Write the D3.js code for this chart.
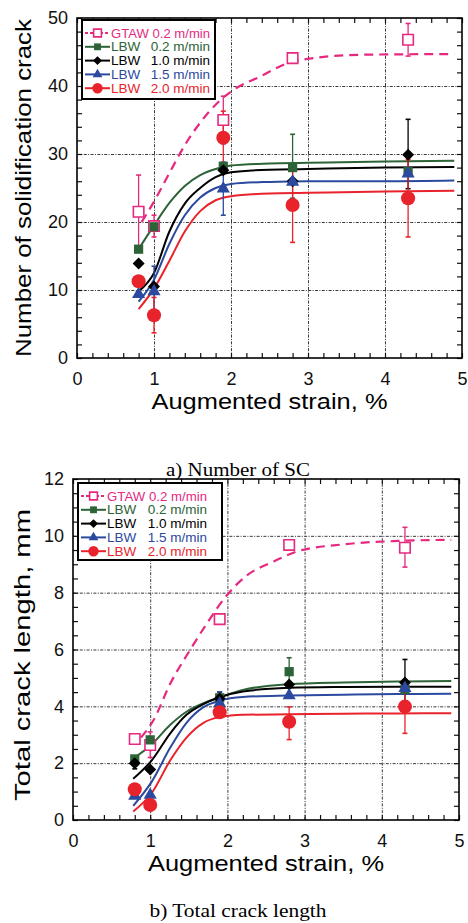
<!DOCTYPE html>
<html>
<head>
<meta charset="utf-8">
<script src="https://cdn.jsdelivr.net/npm/d3@7"></script>
<style>
body { margin: 0; background: #fff; }
svg text { font-family: "Liberation Sans", Arial, sans-serif; }
svg text.caption { font-family: "Liberation Serif", "Times New Roman", serif; }
.grid line { stroke: #3a3a3a; stroke-width: 1; stroke-dasharray: 3,1.4,1,1.4; }
.grid path, .minor path, .lab path { display: none; }
.minor line { stroke: #111; stroke-width: 1.2; }
</style>
</head>
<body>
<svg id="chart" width="468" height="923"></svg>
<script>
// strain values where the tests were run
const strainX = [0.8, 1.0, 1.9, 2.8, 4.3];
const xTickLabels = [0, 1, 2, 3, 4, 5];

// a) number of solidification cracks
const scGtaw = [21.5, 19.4, 35.0, 44.1, 46.8];
const scLbw02 = [16.0, 19.3, 28.2, 28.0, 27.4];
const scLbw10 = [13.9, 10.5, 27.6, 26.0, 29.9];
const scLbw15 = [9.4, 9.8, 24.9, 25.9, 27.1];
const scLbw20 = [11.3, 6.3, 32.4, 22.5, 23.5];

const scErrGtaw = [[16.0, 26.9], [17.8, 21.0], [31.5, 38.5], null, [44.4, 49.2]];
const scErrLbw02 = [null, null, null, [23.5, 32.9], null];
const scErrLbw10 = [null, null, null, null, [24.9, 35.1]];
const scErrLbw15 = [null, [6.0, 13.5], [21.0, 28.8], null, null];
const scErrLbw20 = [null, [3.7, 8.9], [28.5, 36.3], [17.0, 28.0], [17.8, 29.2]];

// fitted curves
const scFitGtawX = [0.84, 1.0, 1.2, 1.4, 1.6, 1.86, 2.07, 2.38, 2.72, 3.07, 3.72, 4.9];
const scFitGtawY = [20.0, 23.0, 27.2, 31.3, 34.6, 37.9, 39.7, 41.4, 43.3, 44.1, 44.6, 44.7];
const scFitX = [0.8, 1.0, 1.2, 1.4, 1.6, 1.8, 2.0, 2.5, 3.0, 4.0, 4.9];
const scFitLbw02 = [16.0, 19.5, 22.8, 25.3, 26.9, 27.8, 28.3, 28.6, 28.7, 28.9, 29.0];
const scFitLbw10 = [9.8, 12.5, 18.6, 22.7, 25.0, 26.6, 27.3, 27.7, 27.8, 28.0, 28.1];
const scFitLbw15 = [8.3, 11.5, 16.8, 21.0, 23.6, 25.0, 25.6, 25.9, 26.0, 26.0, 26.1];
const scFitLbw20 = [7.2, 10.2, 14.3, 18.6, 21.6, 23.2, 23.8, 24.2, 24.3, 24.5, 24.6];

// b) total crack length, mm
const tlGtaw = [2.85, 2.64, 7.07, 9.68, 9.58];
const tlLbw02 = [2.15, 2.82, 4.3, 5.22, 4.6];
const tlLbw10 = [2.0, 1.78, 4.28, 4.77, 4.84];
const tlLbw15 = [0.85, 0.88, 4.1, 4.38, 4.64];
const tlLbw20 = [1.08, 0.53, 3.79, 3.46, 3.99];

const tlErrGtaw = [null, [2.2, 3.1], null, null, [8.9, 10.3]];
const tlErrLbw02 = [null, null, null, [4.73, 5.71], null];
const tlErrLbw10 = [[1.8, 2.2], null, [4.05, 4.5], null, [4.0, 5.65]];
const tlErrLbw15 = [null, null, [3.9, 4.5], null, null];
const tlErrLbw20 = [null, null, null, [2.83, 3.98], [3.05, 4.93]];

const tlFitGtawX = [0.88, 1.04, 1.26, 1.52, 1.73, 1.99, 2.25, 2.6, 2.9, 3.5, 4.2, 4.9];
const tlFitGtawY = [2.9, 3.5, 4.8, 6.0, 6.9, 7.9, 8.6, 9.1, 9.45, 9.7, 9.82, 9.86];
const tlFitX = [0.78, 1.02, 1.26, 1.47, 1.69, 1.9, 2.2, 2.8, 3.5, 4.2, 4.9];
const tlFitLbw02 = [2.17, 2.66, 3.35, 3.81, 4.11, 4.32, 4.58, 4.78, 4.84, 4.87, 4.89];
const tlFitLbw10 = [1.45, 2.1, 3.05, 3.7, 4.08, 4.32, 4.52, 4.65, 4.68, 4.69, 4.69];
const tlFitLbw15 = [0.5, 1.35, 2.55, 3.42, 3.97, 4.2, 4.33, 4.38, 4.41, 4.43, 4.44];
const tlFitLbw20 = [0.3, 0.95, 2.1, 2.9, 3.42, 3.62, 3.7, 3.72, 3.74, 3.75, 3.76];

// legend text
const legendProcess = ["GTAW", "LBW", "LBW", "LBW", "LBW"];
const legendSpeed = ["0.2 m/min", "0.2 m/min", "1.0 m/min", "1.5 m/min", "2.0 m/min"];

// series look: colour + marker
const series = [
    { color: "#e5297f", shape: "openSquare", dashed: true },
    { color: "#2c6337", shape: "square" },
    { color: "#000000", shape: "diamond" },
    { color: "#2b4a9f", shape: "triangle" },
    { color: "#e8232c", shape: "circle" }
];

const svg = d3.select("#chart");

function symbolFor(shape, scale) {
    scale = scale || 1;
    if (shape === "openSquare") return d3.symbol(d3.symbolSquare, 110 * scale)();
    if (shape === "square") return d3.symbol(d3.symbolSquare, 85 * scale)();
    if (shape === "diamond") return d3.symbol(d3.symbolSquare, 72 * scale)();
    if (shape === "triangle") return d3.symbol(d3.symbolTriangle, 75 * scale)();
    return d3.symbol(d3.symbolCircle, 155 * scale)();
}

function drawMarker(g, s, px, py, scale) {
    const m = g.append("path")
        .attr("d", symbolFor(s.shape, scale))
        .attr("transform", `translate(${px},${py})` + (s.shape === "diamond" ? " rotate(45)" : ""));
    if (s.shape === "openSquare") {
        m.attr("fill", "#fff").attr("stroke", s.color).attr("stroke-width", 1.6);
    } else {
        m.attr("fill", s.color);
    }
}

function drawPanel(p) {
    const x = d3.scaleLinear().domain([0, 5]).range([p.left, p.right]);
    const y = d3.scaleLinear().domain([0, p.yMax]).range([p.bottom, p.top]);
    const w = p.right - p.left, h = p.bottom - p.top;
    const g = svg.append("g");

    // dash-dot grid
    g.append("g").attr("class", "grid")
        .attr("transform", `translate(0,${p.bottom})`)
        .call(d3.axisBottom(x).tickValues([1, 2, 3, 4]).tickSizeInner(-h).tickFormat(""));
    g.append("g").attr("class", "grid")
        .attr("transform", `translate(${p.left},0)`)
        .call(d3.axisLeft(y).tickValues(p.yGrid).tickSizeInner(-w).tickFormat(""));

    // inward minor ticks on all four sides
    const xMinor = d3.range(0, 5.001, 0.2);
    const yMinor = d3.range(0, p.yMax + 0.001, p.yMinor);
    g.append("g").attr("class", "minor").attr("transform", `translate(0,${p.bottom})`)
        .call(d3.axisBottom(x).tickValues(xMinor).tickSizeInner(-5).tickFormat(""));
    g.append("g").attr("class", "minor").attr("transform", `translate(0,${p.top})`)
        .call(d3.axisTop(x).tickValues(xMinor).tickSizeInner(-5).tickFormat(""));
    g.append("g").attr("class", "minor").attr("transform", `translate(${p.left},0)`)
        .call(d3.axisLeft(y).tickValues(yMinor).tickSizeInner(-5).tickFormat(""));
    g.append("g").attr("class", "minor").attr("transform", `translate(${p.right},0)`)
        .call(d3.axisRight(y).tickValues(yMinor).tickSizeInner(-5).tickFormat(""));

    // fitted curves
    const line = d3.line().x(d => x(d[0])).y(d => y(d[1])).curve(d3.curveMonotoneX);
    p.fits.forEach((f, i) => {
        const pts = f.x.map((v, k) => [v, f.y[k]]);
        g.append("path")
            .attr("d", line(pts))
            .attr("fill", "none")
            .attr("stroke", series[i].color)
            .attr("stroke-width", i === 0 ? 2.2 : 2)
            .attr("stroke-dasharray", i === 0 ? "9,6" : null);
    });

    // error bars
    p.errs.forEach((e, i) => {
        e.forEach((r, k) => {
            if (!r) return;
            const px = x(strainX[k]);
            const c = series[i].color;
            g.append("line").attr("x1", px).attr("x2", px).attr("y1", y(r[0])).attr("y2", y(r[1]))
                .attr("stroke", c).attr("stroke-width", 1.3);
            [r[0], r[1]].forEach(v => {
                g.append("line").attr("x1", px - 2.5).attr("x2", px + 2.5).attr("y1", y(v)).attr("y2", y(v))
                    .attr("stroke", c).attr("stroke-width", 1.6);
            });
        });
    });

    // markers, GTAW first then LBW from slow to fast
    p.values.forEach((vals, i) => {
        vals.forEach((v, k) => drawMarker(g, series[i], x(strainX[k]), y(v), 1));
    });

    // frame
    g.append("rect").attr("x", p.left).attr("y", p.top).attr("width", w).attr("height", h)
        .attr("fill", "none").attr("stroke", "#000").attr("stroke-width", 1.6);

    // tick labels
    g.append("g").attr("class", "lab").attr("transform", `translate(0,${p.bottom})`)
        .call(d3.axisBottom(x).tickValues(xTickLabels).tickSize(0).tickPadding(p.xLabPad).tickFormat(d3.format("d")))
        .selectAll("text").attr("font-size", 18).attr("fill", "#111");
    g.append("g").attr("class", "lab").attr("transform", `translate(${p.left},0)`)
        .call(d3.axisLeft(y).tickValues(p.yLabels).tickSize(0).tickPadding(p.yLabPad).tickFormat(d3.format("d")))
        .selectAll("text").attr("font-size", 18).attr("fill", "#111");

    // axis titles
    g.append("text").attr("x", (p.left + p.right) / 2).attr("y", p.xTitleY)
        .attr("text-anchor", "middle").attr("font-size", 22)
        .attr("textLength", 236).attr("lengthAdjust", "spacingAndGlyphs")
        .text("Augmented strain, %");
    g.append("text")
        .attr("transform", `translate(${p.yTitleX},${p.yTitleMid}) rotate(-90)`)
        .attr("text-anchor", "middle").attr("font-size", 22)
        .attr("textLength", p.yTitleLen).attr("lengthAdjust", "spacingAndGlyphs")
        .text(p.yTitle);

    // caption
    g.append("text").attr("class", "caption").attr("x", 238).attr("y", p.captionY)
        .attr("text-anchor", "middle").attr("font-size", 19)
        .attr("textLength", p.captionLen).attr("lengthAdjust", "spacingAndGlyphs")
        .text(p.caption);

    // legend
    const L = p.legend;
    const lg = g.append("g");
    lg.append("rect").attr("x", L.x).attr("y", L.y).attr("width", L.w).attr("height", L.h)
        .attr("fill", "#fff").attr("stroke", "#000").attr("stroke-width", 2);
    legendProcess.forEach((name, i) => {
        const ry = L.y + 13 + i * 13.8;
        const s = series[i];
        lg.append("line").attr("x1", L.x + 3).attr("x2", L.x + 28).attr("y1", ry).attr("y2", ry)
            .attr("stroke", s.color).attr("stroke-width", 2)
            .attr("stroke-dasharray", s.dashed ? "3,2" : null);
        drawMarker(lg, s, L.x + 15.5, ry, 0.55);
        if (i === 0) {
            // GTAW row runs as one string
            lg.append("text").attr("x", L.x + 29).attr("y", ry + 4.5)
                .attr("font-size", 13).attr("fill", s.color)
                .attr("textLength", L.textEnd - L.x - 29).attr("lengthAdjust", "spacingAndGlyphs")
                .text(name + " " + legendSpeed[i]);
            return;
        }
        lg.append("text").attr("x", L.x + 29).attr("y", ry + 4.5)
            .attr("font-size", 13.5).attr("fill", s.color).text(name);
        lg.append("text").attr("x", L.textEnd).attr("y", ry + 4.5)
            .attr("text-anchor", "end")
            .attr("font-size", 13.5).attr("fill", s.color).text(legendSpeed[i]);
    });
}

drawPanel({
    left: 77, right: 462, top: 18, bottom: 358, yMax: 50,
    yGrid: [10, 20, 30, 40], yMinor: 2, yLabels: [0, 10, 20, 30, 40, 50],
    xLabPad: 14, yLabPad: 9,
    xTitleY: 409, yTitleX: 31, yTitleMid: 188, yTitleLen: 338,
    yTitle: "Number of solidification crack",
    captionY: 476, captionLen: 144, caption: "a) Number of SC",
    values: [scGtaw, scLbw02, scLbw10, scLbw15, scLbw20],
    errs: [scErrGtaw, scErrLbw02, scErrLbw10, scErrLbw15, scErrLbw20],
    fits: [
        { x: scFitGtawX, y: scFitGtawY },
        { x: scFitX, y: scFitLbw02 },
        { x: scFitX, y: scFitLbw10 },
        { x: scFitX, y: scFitLbw15 },
        { x: scFitX, y: scFitLbw20 }
    ],
    legend: { x: 82, y: 20, w: 133, h: 79, textEnd: 210 }
});

drawPanel({
    left: 73, right: 459, top: 479, bottom: 820, yMax: 12,
    yGrid: [2, 4, 6, 8, 10], yMinor: 0.5, yLabels: [0, 2, 4, 6, 8, 10, 12],
    xLabPad: 14, yLabPad: 9,
    xTitleY: 871, yTitleX: 30, yTitleMid: 655, yTitleLen: 292,
    yTitle: "Total crack length, mm",
    captionY: 917, captionLen: 177, caption: "b) Total crack length",
    values: [tlGtaw, tlLbw02, tlLbw10, tlLbw15, tlLbw20],
    errs: [tlErrGtaw, tlErrLbw02, tlErrLbw10, tlErrLbw15, tlErrLbw20],
    fits: [
        { x: tlFitGtawX, y: tlFitGtawY },
        { x: tlFitX, y: tlFitLbw02 },
        { x: tlFitX, y: tlFitLbw10 },
        { x: tlFitX, y: tlFitLbw15 },
        { x: tlFitX, y: tlFitLbw20 }
    ],
    legend: { x: 78, y: 483, w: 144, h: 77, textEnd: 207 }
});
</script>
</body>
</html>
